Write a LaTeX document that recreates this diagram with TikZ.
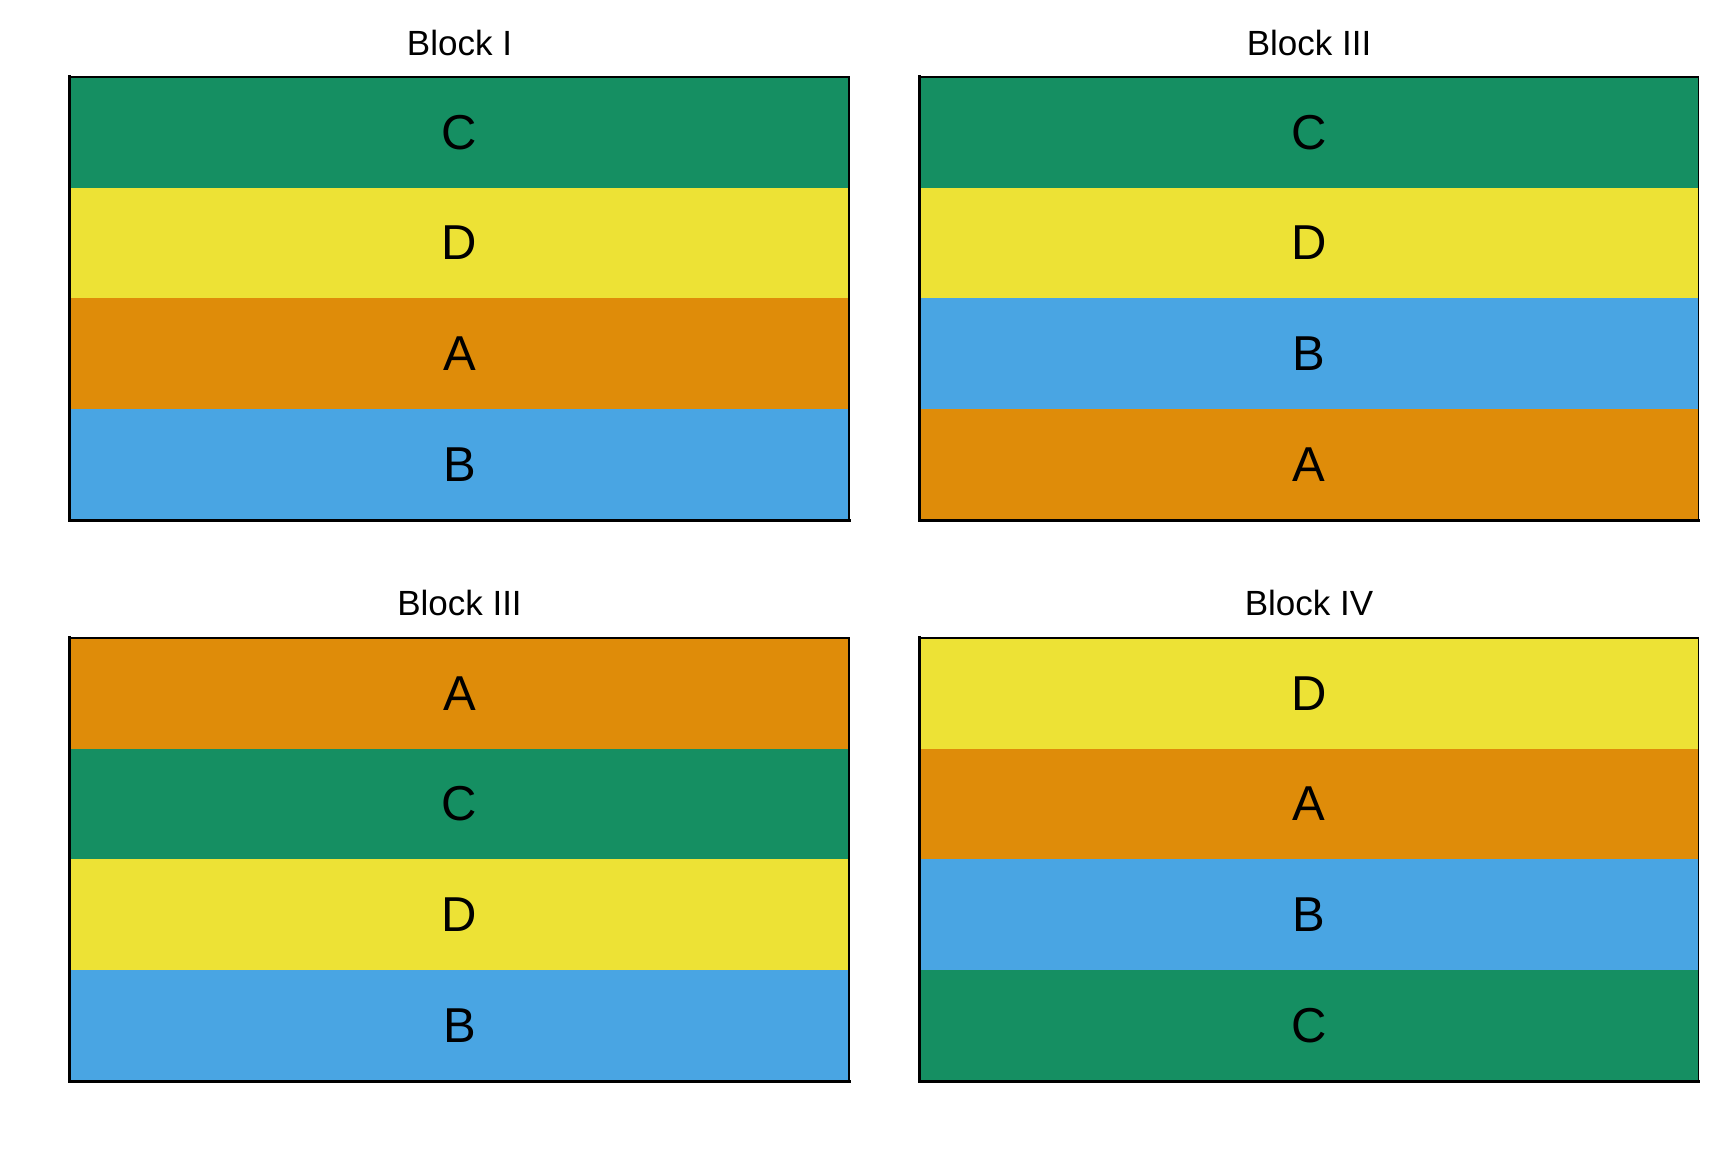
\documentclass[tikz,border=0pt]{standalone}
\usepackage{fontspec}
\setmainfont{Liberation Sans}
\usepackage{tikz}

\definecolor{trtA}{HTML}{DF8C09}
\definecolor{trtB}{HTML}{49A5E3}
\definecolor{trtC}{HTML}{158F62}
\definecolor{trtD}{HTML}{EDE235}

\begin{document}
\begin{tikzpicture}[
    x = 1pt, y = -1pt,
    %
    plot/.style = {inner sep = 0pt,
      minimum width = {779pt},
      minimum height = {110.75pt},
      fill = #1, draw = #1,
      font = \fontsize{49}{58}\selectfont},
    %
    title/.style = {anchor = base, inner sep = 0pt,
      font = \fontsize{35}{42}\selectfont},
    %
    axis/.style = {line width = 3pt, line cap = rect},
    frame/.style = {line width = 1.5pt},
    ]

    \useasboundingbox (0, 0) rectangle (1728, 1152);

    % Block I
    \node at (459.5, 55) [title, name = T_I] {Block I};
    \node at (459.5, 132.4) [plot = trtC, name = I_C] {C};
    \node at (459.5, 243.1) [plot = trtD, name = I_D] {D};
    \node at (459.5, 353.9) [plot = trtA, name = I_A] {A};
    \node at (459.5, 464.6) [plot = trtB, name = I_B] {B};

    % Block III (top)
    \node at (1309, 55) [title, name = T_IIIa] {Block III};
    \node at (1309, 132.4) [plot = trtC, name = IIIa_C] {C};
    \node at (1309, 243.1) [plot = trtD, name = IIIa_D] {D};
    \node at (1309, 353.9) [plot = trtB, name = IIIa_B] {B};
    \node at (1309, 464.6) [plot = trtA, name = IIIa_A] {A};

    % Block III (bottom)
    \node at (459.5, 615) [title, name = T_IIIb] {Block III};
    \node at (459.5, 693.4) [plot = trtA, name = IIIb_A] {A};
    \node at (459.5, 804.1) [plot = trtC, name = IIIb_C] {C};
    \node at (459.5, 914.9) [plot = trtD, name = IIIb_D] {D};
    \node at (459.5, 1025.6) [plot = trtB, name = IIIb_B] {B};

    % Block IV
    \node at (1309, 615) [title, name = T_IV] {Block IV};
    \node at (1309, 693.4) [plot = trtD, name = IV_D] {D};
    \node at (1309, 804.1) [plot = trtA, name = IV_A] {A};
    \node at (1309, 914.9) [plot = trtB, name = IV_B] {B};
    \node at (1309, 1025.6) [plot = trtC, name = IV_C] {C};

    % panel borders
    \draw [frame] (I_C.north west) -| (I_B.south east);
    \draw [axis] (I_C.north west) |- (I_B.south east);

    \draw [frame] (IIIa_C.north west) -| (IIIa_A.south east);
    \draw [axis] (IIIa_C.north west) |- (IIIa_A.south east);

    \draw [frame] (IIIb_A.north west) -| (IIIb_B.south east);
    \draw [axis] (IIIb_A.north west) |- (IIIb_B.south east);

    \draw [frame] (IV_D.north west) -| (IV_C.south east);
    \draw [axis] (IV_D.north west) |- (IV_C.south east);

  \end{tikzpicture}
\end{document}
